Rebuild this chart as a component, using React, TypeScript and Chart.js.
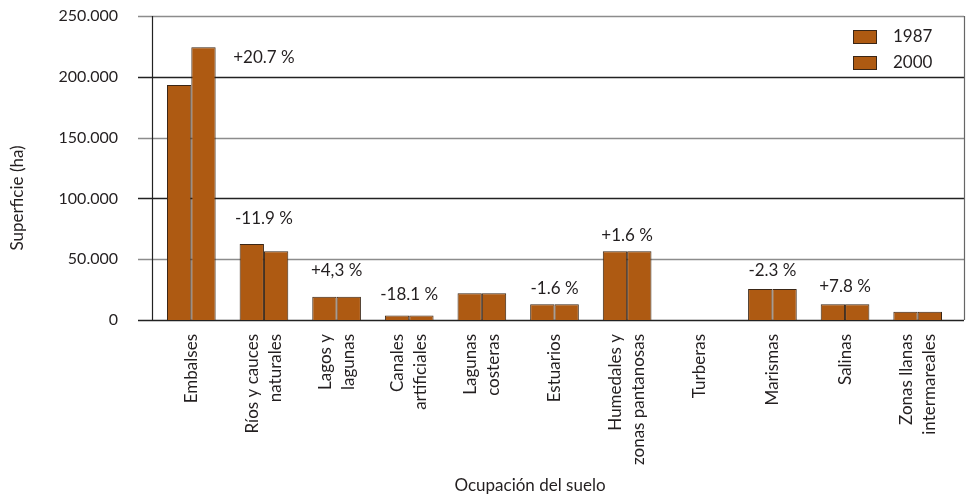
import React, { useEffect, useRef } from 'react';
import { Chart, registerables } from 'chart.js';

Chart.register(...registerables);

// ---- Data ----
const categories: string[][] = [
  ['Embalses'],
  ['Ríos y cauces', 'naturales'],
  ['Lagos y', 'lagunas'],
  ['Canales', 'artificiales'],
  ['Lagunas', 'costeras'],
  ['Estuarios'],
  ['Humedales y', 'zonas pantanosas'],
  ['Turberas'],
  ['Marismas'],
  ['Salinas'],
  ['Zonas llanas', 'intermareales'],
];
const seriesNames = ['1987', '2000'];
const values1987 = [193300, 62500, 19200, 3800, 22000, 12900, 56500, 0, 25500, 12900, 6800];
const values2000 = [224300, 56500, 19200, 3800, 22000, 12900, 56500, 0, 25500, 12900, 6800];

const changeLabels = ['+20.7 %', '-11.9 %', '+4,3 %', '-18.1 %', '-1.6 %', '+1.6 %', '-2.3 %', '+7.8 %'];
const changeSlots = [1, 1, 2, 3, 5, 6, 8, 9];
const changeLevels = [216000, 83500, 41000, 20600, 25900, 69100, 40300, 27500];

const yTicks = [0, 50000, 100000, 150000, 200000, 250000];
const yTitle = 'Superficie (ha)';
const xTitle = 'Ocupación del suelo';

// ---- Style ----
const FONT = 'Lato, "Noto Sans", sans-serif';
const TEXT = '#231f20';
const BAR = '#ae5a12';
const BAR_BORDER = '#3a2616';
const DARK = '#222222';
const GRAY = '#8c8c8c';

const fmt = (v: number) =>
  v === 0 ? '0' : String(v).replace(/\B(?=(\d{3})+(?!\d))/g, '.');

const decorPlugin = {
  id: 'decor',
  beforeDatasetsDraw(chart: any) {
    const { ctx, chartArea } = chart;
    const y = chart.scales.y;
    const axisX = chartArea.left - 3;
    const rightX = chartArea.right + 10;
    ctx.save();
    ctx.lineWidth = 1.5;
    yTicks.forEach((v) => {
      const py = Math.round(y.getPixelForValue(v)) + 0.5;
      ctx.strokeStyle = v % 100000 === 0 ? DARK : GRAY;
      ctx.beginPath();
      ctx.moveTo(axisX - 14, py);
      ctx.lineTo(rightX, py);
      ctx.stroke();
    });
    ctx.strokeStyle = DARK;
    ctx.lineWidth = 1.2;
    ctx.beginPath();
    ctx.moveTo(axisX + 0.5, chartArea.top);
    ctx.lineTo(axisX + 0.5, chartArea.bottom);
    ctx.stroke();
    ctx.strokeStyle = '#666666';
    ctx.beginPath();
    ctx.moveTo(rightX + 0.5, chartArea.top);
    ctx.lineTo(rightX + 0.5, chartArea.bottom);
    ctx.stroke();
    ctx.restore();
  },
  afterDraw(chart: any) {
    const { ctx, chartArea } = chart;
    const x = chart.scales.x;
    const y = chart.scales.y;
    ctx.save();
    ctx.fillStyle = TEXT;

    // category labels (rotated)
    ctx.font = `17px ${FONT}`;
    categories.forEach((lines, i) => {
      const px = x.getPixelForValue(i);
      ctx.save();
      ctx.translate(px, chartArea.bottom + 14);
      ctx.rotate(-Math.PI / 2);
      ctx.textAlign = 'right';
      ctx.textBaseline = 'middle';
      lines.forEach((line, j) => {
        ctx.fillText(line, 0, (j - (lines.length - 1) / 2) * 23);
      });
      ctx.restore();
    });

    // change annotations
    ctx.font = `17px ${FONT}`;
    ctx.textAlign = 'center';
    ctx.textBaseline = 'middle';
    changeLabels.forEach((t, i) => {
      ctx.fillText(t, x.getPixelForValue(changeSlots[i]), y.getPixelForValue(changeLevels[i]));
    });

    // axis titles
    ctx.font = `17px ${FONT}`;
    ctx.save();
    ctx.translate(18, 198);
    ctx.rotate(-Math.PI / 2);
    ctx.textAlign = 'center';
    ctx.textBaseline = 'middle';
    ctx.fillText(yTitle, 0, 0);
    ctx.restore();
    ctx.textAlign = 'center';
    ctx.textBaseline = 'middle';
    ctx.fillText(xTitle, 530, 486);

    // legend
    const ds = chart.data.datasets;
    ds.forEach((d: any, i: number) => {
      const by = 30 + i * 26;
      ctx.fillStyle = d.backgroundColor;
      ctx.fillRect(853, by, 23, 13);
      ctx.strokeStyle = BAR_BORDER;
      ctx.lineWidth = 1;
      ctx.strokeRect(853.5, by + 0.5, 23, 13);
      ctx.fillStyle = TEXT;
      ctx.font = `17px ${FONT}`;
      ctx.textAlign = 'left';
      ctx.textBaseline = 'middle';
      ctx.fillText(d.label, 893, by + 6.5);
    });
    ctx.restore();
  },
};

export default function App() {
  const ref = useRef<HTMLCanvasElement | null>(null);

  useEffect(() => {
    if (!ref.current) return;
    const chart = new Chart(ref.current, {
      type: 'bar',
      data: {
        labels: categories.map((c) => c.join(' ')),
        datasets: [
          {
            label: seriesNames[0],
            data: values1987,
            backgroundColor: BAR,
            borderColor: BAR_BORDER,
            borderWidth: 1,
          },
          {
            label: seriesNames[1],
            data: values2000,
            backgroundColor: BAR,
            borderColor: BAR_BORDER,
            borderWidth: 1,
          },
        ],
      },
      options: {
        responsive: false,
        animation: false,
        layout: { padding: { top: 16, right: 12, left: 0, bottom: 0 } },
        datasets: {
          bar: { categoryPercentage: 0.67, barPercentage: 1.0 },
        },
        plugins: {
          legend: { display: false },
          tooltip: { enabled: false },
          title: { display: false },
        },
        scales: {
          x: {
            grid: { display: false, drawTicks: false },
            border: { display: false },
            ticks: { display: false },
            afterFit: (s: any) => {
              s.height = 177;
              s.paddingLeft = 0;
              s.paddingRight = 0;
            },
          },
          y: {
            min: 0,
            max: 250000,
            afterBuildTicks: (s: any) => {
              s.ticks = yTicks.map((v) => ({ value: v }));
            },
            grid: { display: false, drawTicks: false },
            border: { display: false },
            ticks: {
              padding: 37,
              color: TEXT,
              font: { family: FONT, size: 16 },
              callback: (v: any) => fmt(Number(v)),
            },
            afterFit: (s: any) => {
              s.width = 155;
              s.paddingTop = 0;
              s.paddingBottom = 0;
            },
          },
        },
      },
      plugins: [decorPlugin],
    });
    return () => chart.destroy();
  }, []);

  return (
    <div style={{ position: 'absolute', left: 0, top: 0, width: 966, height: 497, background: '#fff' }}>
      <canvas ref={ref} width={966} height={497} style={{ width: 966, height: 497, display: 'block' }} />
    </div>
  );
}
